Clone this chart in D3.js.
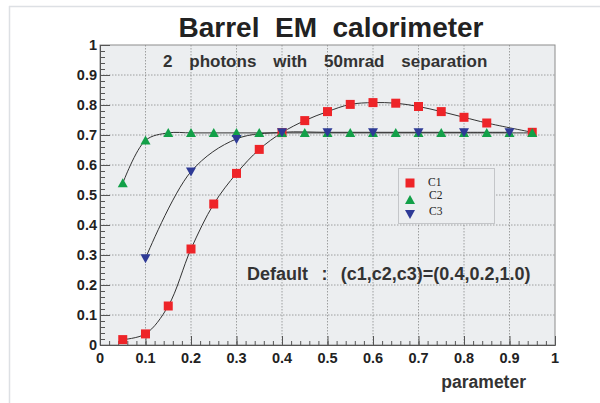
<!DOCTYPE html>
<html><head><meta charset="utf-8">
<script src="https://cdn.jsdelivr.net/npm/d3@7"></script>
<style>body{margin:0;background:#fff}svg{display:block}</style>
</head><body>
<script>
const title = "Barrel  EM  calorimeter";
const subtitle = "2  photons  with  50mrad  separation";
const noteText = "Default  :  (c1,c2,c3)=(0.4,0.2,1.0)";
const xLabel = "parameter";
const seriesNames = ["C1","C2","C3"];
const c1x = [0.05,0.1,0.15,0.2,0.25,0.3,0.35,0.4,0.45,0.5,0.55,0.6,0.65,0.7,0.75,0.8,0.85,0.95];
const c1y = [0.018,0.037,0.13,0.32,0.47,0.572,0.652,0.708,0.748,0.778,0.802,0.808,0.806,0.795,0.778,0.759,0.740,0.709];
const c2x = [0.05,0.1,0.15,0.2,0.25,0.3,0.35,0.4,0.45,0.5,0.55,0.6,0.65,0.7,0.75,0.8,0.85,0.9,0.95];
const c2y = [0.539,0.682,0.707,0.707,0.707,0.707,0.707,0.707,0.707,0.707,0.707,0.707,0.707,0.707,0.707,0.707,0.707,0.707,0.707];
const c3x = [0.1,0.2,0.3,0.4,0.5,0.6,0.7,0.8,0.9];
const c3y = [0.289,0.578,0.687,0.709,0.709,0.709,0.709,0.709,0.709];
const xTicks = [0,0.1,0.2,0.3,0.4,0.5,0.6,0.7,0.8,0.9,1];
const yTicks = [0,0.1,0.2,0.3,0.4,0.5,0.6,0.7,0.8,0.9,1];

const W=600,H=403;
const svg=d3.select("body").append("svg").attr("width",W).attr("height",H);
const L=100,R=555,T=45,B=345;
const x=d3.scaleLinear().domain([0,1]).range([L,R]);
const y=d3.scaleLinear().domain([0,1]).range([B,T]);
const font="'Liberation Sans', Arial, Helvetica, sans-serif";

// outer frame lines
svg.append("line").attr("x1",9).attr("x2",W).attr("y1",6.5).attr("y2",6.5).attr("stroke","#dde0e4").attr("stroke-width",1.5);
svg.append("line").attr("x1",9.5).attr("x2",9.5).attr("y1",6).attr("y2",H).attr("stroke","#dde0e4").attr("stroke-width",1.5);

// plot background
svg.append("rect").attr("x",L).attr("y",T).attr("width",R-L).attr("height",B-T).attr("fill","#eceef0");

// grid
const g=svg.append("g");
xTicks.slice(1,-1).forEach(v=>g.append("line").attr("x1",x(v)).attr("x2",x(v)).attr("y1",T).attr("y2",B)
  .attr("stroke","#8a8a8a").attr("stroke-width",0.8).attr("stroke-dasharray","1.5,1.5"));
yTicks.slice(1,-1).forEach(v=>g.append("line").attr("x1",L).attr("x2",R).attr("y1",y(v)).attr("y2",y(v))
  .attr("stroke","#8a8a8a").attr("stroke-width",0.8).attr("stroke-dasharray","1.5,1.5"));

// frame
svg.append("rect").attr("x",L).attr("y",T).attr("width",R-L).attr("height",B-T).attr("fill","none").attr("stroke","#8c8c8c").attr("stroke-width",1);

// axes via d3 axes with inner ticks
const minor=d3.range(0,1.0001,0.02);
const xAxisMinor=d3.axisTop(x).tickValues(minor).tickSize(4).tickFormat("");
const xAxisMajor=d3.axisTop(x).tickValues(xTicks).tickSize(9).tickFormat("");
svg.append("g").attr("transform",`translate(0,${B})`).call(xAxisMinor).call(s=>s.select(".domain").remove()).selectAll("line").attr("stroke","#555");
svg.append("g").attr("transform",`translate(0,${B})`).call(xAxisMajor).call(s=>s.select(".domain").attr("stroke","#555")).selectAll("line").attr("stroke","#555");
const yAxisMinor=d3.axisRight(y).tickValues(minor).tickSize(5).tickFormat("");
const yAxisMajor=d3.axisRight(y).tickValues(yTicks).tickSize(10).tickFormat("");
svg.append("g").attr("transform",`translate(${L},0)`).call(yAxisMinor).call(s=>s.select(".domain").remove()).selectAll("line").attr("stroke","#555");
svg.append("g").attr("transform",`translate(${L},0)`).call(yAxisMajor).call(s=>s.select(".domain").attr("stroke","#555")).selectAll("line").attr("stroke","#555");

// tick labels
const fmt=v=>v===0?"0":v===1?"1":d3.format(".1f")(v);
svg.append("g").selectAll("text").data(xTicks).join("text")
  .attr("x",d=>x(d)).attr("y",363).attr("text-anchor","middle")
  .attr("font-family",font).attr("font-weight","bold").attr("font-size",14.5).attr("fill","#222").text(fmt);
svg.append("g").selectAll("text").data(yTicks).join("text")
  .attr("x",97).attr("y",d=>y(d)+5).attr("text-anchor","end")
  .attr("font-family",font).attr("font-weight","bold").attr("font-size",14.5).attr("fill","#222").text(fmt);

// texts
svg.append("text").attr("x",331).attr("y",37).attr("text-anchor","middle").attr("font-family",font)
  .attr("font-weight","bold").attr("font-size",28).attr("fill","#222").style("white-space","pre").text(title);
svg.append("text").attr("x",163).attr("y",67).attr("text-anchor","start").attr("font-family",font)
  .attr("font-weight","bold").attr("font-size",17).attr("word-spacing",3.7).attr("fill","#333").style("white-space","pre").text(subtitle);
svg.append("text").attr("x",247).attr("y",280).attr("text-anchor","start").attr("font-family",font)
  .attr("font-weight","bold").attr("font-size",18).attr("word-spacing",1.7).attr("fill","#333").style("white-space","pre").text(noteText);
svg.append("text").attr("x",526).attr("y",388).attr("text-anchor","end").attr("font-family",font)
  .attr("font-weight","bold").attr("font-size",17.5).attr("fill","#333").text(xLabel);

// lines
const lineGen=d3.line().curve(d3.curveCatmullRom.alpha(0.5)).x(d=>x(d[0])).y(d=>y(d[1]));
const series=[
  {xs:c1x,ys:c1y,color:"#ee2428",sym:"square"},
  {xs:c2x,ys:c2y,color:"#12a048",sym:"up"},
  {xs:c3x,ys:c3y,color:"#2e3a96",sym:"down"}
];
series.forEach(s=>{
  const pts=s.xs.map((v,i)=>[v,s.ys[i]]);
  svg.append("path").datum(pts).attr("d",lineGen).attr("fill","none").attr("stroke","#333").attr("stroke-width",1);
});
function marker(sel,s,px,py){
  if(s.sym==="down"){
    sel.append("path").attr("d",`M${px-5},${py-4}L${px+5},${py-4}L${px},${py+5}Z`).attr("fill",s.color);
  } else if(s.sym==="up"){
    sel.append("path").attr("d",`M${px-5},${py+4}L${px+5},${py+4}L${px},${py-5}Z`).attr("fill",s.color);
  } else {
    sel.append("rect").attr("x",px-4.5).attr("y",py-4.5).attr("width",9).attr("height",9).attr("fill",s.color);
  }
}
series.forEach(s=>{
  const mg=svg.append("g");
  s.xs.forEach((v,i)=>marker(mg,s,x(v),y(s.ys[i])));
});

// legend
const lg=svg.append("g");
lg.append("rect").attr("x",398.5).attr("y",168.5).attr("width",96).attr("height",55).attr("fill","#eceef0").attr("stroke","#c4c6c9").attr("stroke-width",1);
const legY=[183,200,214];
const labY=[186,198.5,215];
series.forEach((s,i)=>{
  marker(lg,s,410,legY[i]);
  lg.append("text").attr("x",[428,429,429][i]).attr("y",labY[i]).attr("font-family","'Liberation Serif','Times New Roman',serif")
    .attr("font-size",11.5).attr("fill","#222").text(seriesNames[i]);
});
</script>
</body></html>
